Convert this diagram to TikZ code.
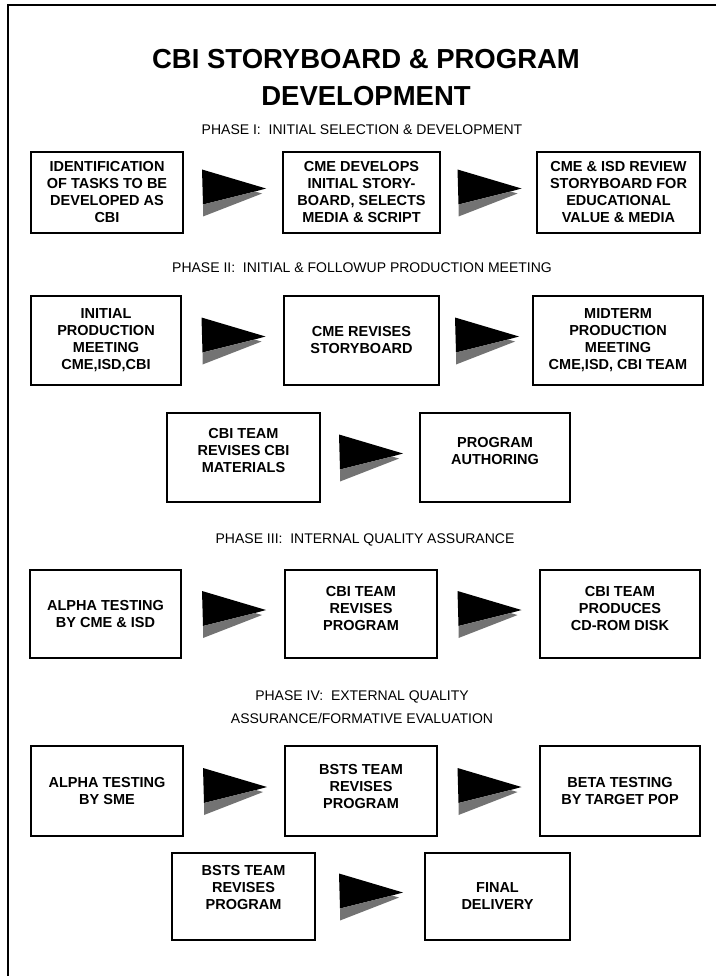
\documentclass[tikz,border=0pt]{standalone}
\usepackage{fontspec}
\setmainfont{Liberation Sans}
\usetikzlibrary{calc}

\tikzset{
  stepbox/.style={draw, line width=1.3pt, align=center, inner sep=2pt,
    font=\bfseries\fontsize{14.5}{17}\selectfont},
  phase/.style={align=center, font=\fontsize{14}{23}\selectfont},
  pennant/.pic={
    \fill[black] (-31,-23) -- (33,-4) -- (22,-1) -- (-30,12) -- cycle;
    \fill[black!55] (-30,12) -- (22,-1) -- (29,1) -- (24,3) -- (-30,24) -- cycle;
  }
}

\begin{document}
\begin{tikzpicture}[x=1pt,y=-1pt]
  \useasboundingbox (0,0) rectangle (716,976);
  \draw[line width=1.5pt] (716,5) -- (8,5) -- (8,976);

  \node[align=center, font=\bfseries\fontsize{27.5}{37}\selectfont] (title) at (366,78)
	{CBI STORYBOARD \& PROGRAM\\DEVELOPMENT};
  \node[phase] (phaseone) at (362,130) {PHASE I:\ \ INITIAL SELECTION \& DEVELOPMENT};

  \node[stepbox, minimum width=152pt, minimum height=81pt] (idtasks) at (107,192.5)
	{IDENTIFICATION\\OF TASKS TO BE\\DEVELOPED AS\\CBI};
  \node[stepbox, minimum width=157pt, minimum height=81pt] (cmedev) at (361.5,192.5)
	{CME DEVELOPS\\INITIAL STORY-\\BOARD, SELECTS\\MEDIA \& SCRIPT};
  \node[stepbox, minimum width=163pt, minimum height=81pt] (review) at (618.5,192.5)
	{CME \& ISD REVIEW\\STORYBOARD FOR\\EDUCATIONAL\\VALUE \& MEDIA};

  \node[phase] (phasetwo) at (362,268) {PHASE II:\ \ INITIAL \& FOLLOWUP PRODUCTION MEETING};

  \node[stepbox, minimum width=150pt, minimum height=89pt] (initmeet) at (106,340.5)
	{INITIAL\\PRODUCTION\\MEETING\\CME,ISD,CBI};
  \node[stepbox, minimum width=155pt, minimum height=89pt] (revsb) at (361.5,340.5)
	{CME REVISES\\STORYBOARD};
  \node[stepbox, minimum width=170pt, minimum height=89pt] (midterm) at (618,340.5)
	{MIDTERM\\PRODUCTION\\MEETING\\CME,ISD, CBI TEAM};

  \node[stepbox, minimum width=153pt, minimum height=89pt, text depth=14pt] (revmat) at (243.5,457.5)
	{CBI TEAM\\REVISES CBI\\MATERIALS};
  \node[stepbox, minimum width=150pt, minimum height=89pt, text depth=14pt] (authoring) at (495,457.5)
	{PROGRAM\\AUTHORING};

  \node[phase] (phasethree) at (365,540) {PHASE III:\ \ INTERNAL QUALITY ASSURANCE};

  \node[stepbox, minimum width=151pt, minimum height=88pt] (alphacme) at (105.5,614)
	{ALPHA TESTING\\BY CME \& ISD};
  \node[stepbox, minimum width=152pt, minimum height=88pt, text depth=12pt] (revprog) at (361,614)
	{CBI TEAM\\REVISES\\PROGRAM};
  \node[stepbox, minimum width=160pt, minimum height=88pt, text depth=12pt] (cdrom) at (620,614)
	{CBI TEAM\\PRODUCES\\CD-ROM DISK};

  \node[phase] (phasefour) at (362,707)
	{PHASE IV:\ \ EXTERNAL QUALITY\\ASSURANCE/FORMATIVE EVALUATION};

  \node[stepbox, minimum width=152pt, minimum height=90pt] (alphasme) at (107,791)
	{ALPHA TESTING\\BY SME};
  \node[stepbox, minimum width=152pt, minimum height=90pt, text depth=10pt] (bstsrev) at (361,791)
	{BSTS TEAM\\REVISES\\PROGRAM};
  \node[stepbox, minimum width=160pt, minimum height=90pt] (beta) at (620,791)
	{BETA TESTING\\BY TARGET POP};

  \node[stepbox, minimum width=143pt, minimum height=87pt, text depth=18pt] (bstsagain) at (243.5,896.5)
	{BSTS TEAM\\REVISES\\PROGRAM};
  \node[stepbox, minimum width=145pt, minimum height=87pt] (delivery) at (497.5,896.5)
	{FINAL\\DELIVERY};

  % flag arrows between the boxes
  \pic at ($(idtasks.east)!0.5!(cmedev.west)$) {pennant};
  \pic at ($(cmedev.east)!0.5!(review.west)$) {pennant};
  \pic at ($(initmeet.east)!0.5!(revsb.west)$) {pennant};
  \pic at ($(revsb.east)!0.5!(midterm.west)$) {pennant};
  \pic at ($(revmat.east)!0.5!(authoring.west)$) {pennant};
  \pic at ($(alphacme.east)!0.5!(revprog.west)$) {pennant};
  \pic at ($(revprog.east)!0.5!(cdrom.west)$) {pennant};
  \pic at ($(alphasme.east)!0.5!(bstsrev.west)$) {pennant};
  \pic at ($(bstsrev.east)!0.5!(beta.west)$) {pennant};
  \pic at ($(bstsagain.east)!0.5!(delivery.west)$) {pennant};

\end{tikzpicture}
\end{document}
